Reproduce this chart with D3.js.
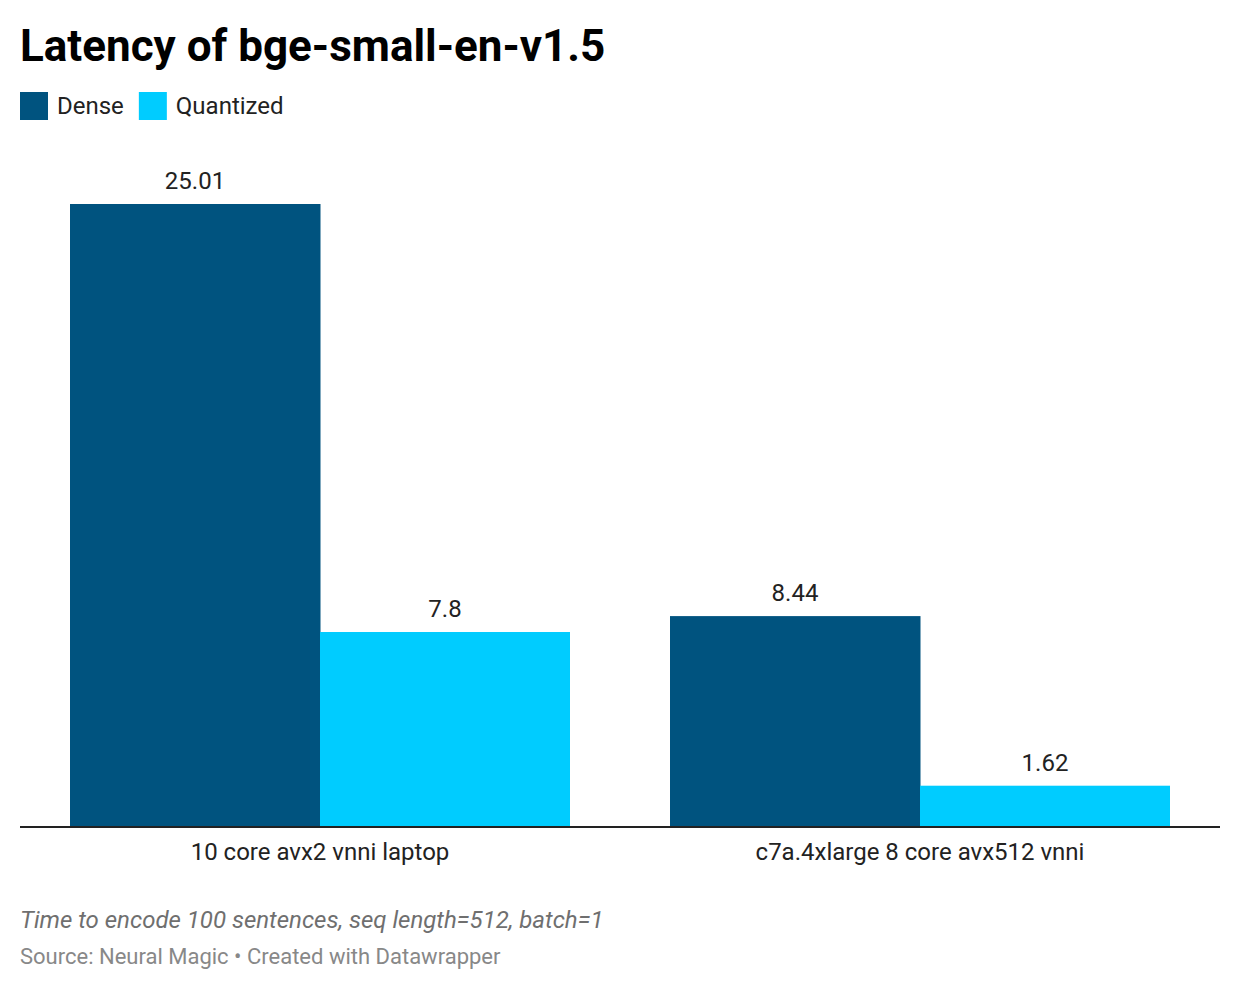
<!DOCTYPE html>
<html><head><meta charset="utf-8">
<script src="https://cdn.jsdelivr.net/npm/d3@7"></script>
<style>
html,body{margin:0;padding:0;background:#fff;}
svg text{font-family:Roboto, "Noto Sans", sans-serif;}
</style></head>
<body>
<svg id="chart" width="1240" height="990"></svg>
<script>
const categories = ["10 core avx2 vnni laptop", "c7a.4xlarge 8 core avx512 vnni"];
const seriesNames = ["Dense", "Quantized"];
const denseValues = [25.01, 8.44];
const quantizedValues = [7.8, 1.62];
const valueLabels = [["25.01", "7.8"], ["8.44", "1.62"]];
const colors = ["#00537f", "#00ccff"];

const svg = d3.select("#chart");

svg.append("text").attr("x", 20).attr("y", 61)
  .attr("font-size", 44).attr("font-weight", 700).attr("fill", "#000")
  .text("Latency of bge-small-en-v1.5");

// legend
const legend = svg.append("g");
let lx = 20;
seriesNames.forEach((name, i) => {
  legend.append("rect").attr("x", lx).attr("y", 92).attr("width", 28).attr("height", 28).attr("fill", colors[i]);
  const t = legend.append("text").attr("x", lx + 37).attr("y", 114).attr("font-size", 24).attr("fill", "#222").text(name);
  lx += 37 + t.node().getComputedTextLength() + 15;
});

const baseY = 826;
const y = d3.scaleLinear().domain([0, 25.01]).range([baseY, 204]);
const x0 = d3.scaleBand().domain(categories).range([20, 1220]).paddingInner(1/6).paddingOuter(1/12);
const x1 = d3.scaleBand().domain(seriesNames).range([0, x0.bandwidth()]);

const data = categories.map((c, i) => ({cat: c, vals: [denseValues[i], quantizedValues[i]], labels: valueLabels[i]}));

const g = svg.append("g");
data.forEach(d => {
  seriesNames.forEach((s, j) => {
    const v = d.vals[j];
    g.append("rect")
      .attr("x", x0(d.cat) + x1(s))
      .attr("y", y(v))
      .attr("width", x1.bandwidth() + (j === 0 ? 0.5 : 0))
      .attr("height", baseY - y(v))
      .attr("fill", colors[j]);
    g.append("text")
      .attr("x", x0(d.cat) + x1(s) + x1.bandwidth() / 2)
      .attr("y", y(v) - 15)
      .attr("text-anchor", "middle").attr("font-size", 24).attr("fill", "#222")
      .text(d.labels[j]);
  });
});

// axis
const axis = d3.axisBottom(x0).tickSize(0).tickPadding(17);
const ax = svg.append("g").attr("transform", `translate(0,${baseY})`).call(axis);
ax.select(".domain").attr("stroke", "#222").attr("stroke-width", 2).attr("d", "M20,1H1220");
ax.selectAll(".tick text").attr("font-size", 24).attr("fill", "#222").attr("font-family", "Roboto, sans-serif").attr("dy", "0.71em");

svg.append("text").attr("x", 20).attr("y", 928).attr("font-size", 24).attr("font-style", "italic").attr("fill", "#6f6f6f")
  .text("Time to encode 100 sentences, seq length=512, batch=1");
svg.append("text").attr("x", 20).attr("y", 964).attr("font-size", 22).attr("fill", "#888")
  .text("Source: Neural Magic • Created with Datawrapper");
</script>
</body></html>
